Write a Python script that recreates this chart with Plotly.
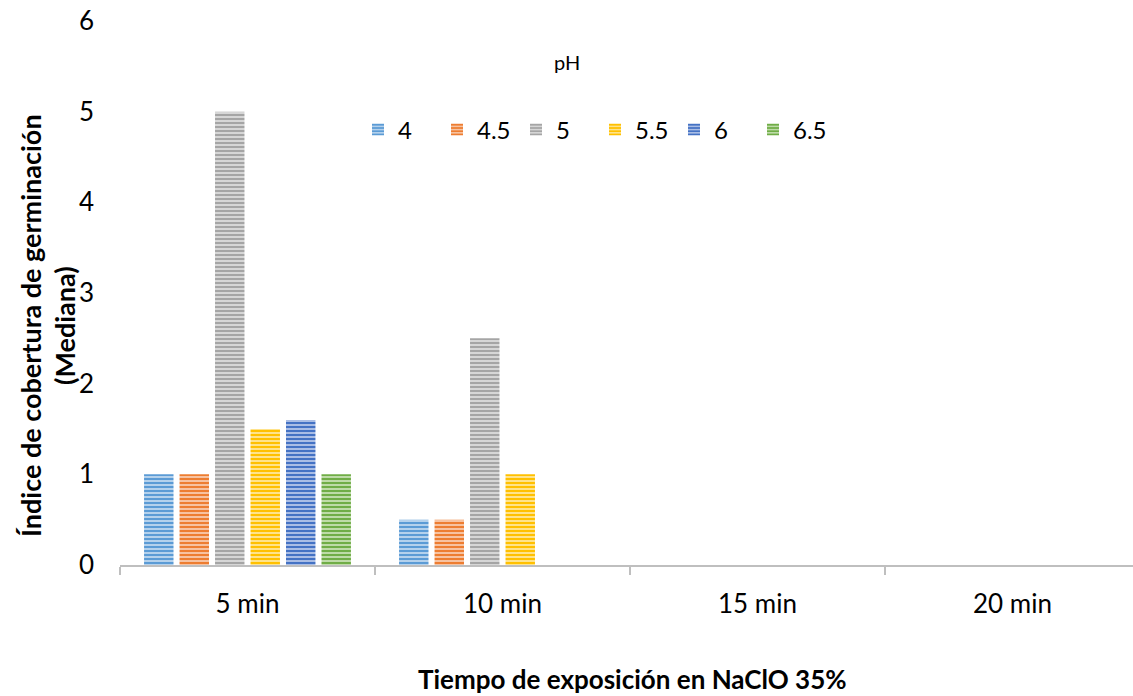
import plotly.graph_objects as go

# Exposure times (x categories) and pH levels (series)
categories = ["5 min", "10 min", "15 min", "20 min"]
ph_labels = ["4", "4.5", "5", "5.5", "6", "6.5"]

# Median germination coverage index per pH, one value per exposure time
values_ph4 = [1, 0.5, 0, 0]
values_ph45 = [1, 0.5, 0, 0]
values_ph5 = [5, 2.5, 0, 0]
values_ph55 = [1.5, 1, 0, 0]
values_ph6 = [1.6, 0, 0, 0]
values_ph65 = [1, 0, 0, 0]

series = [values_ph4, values_ph45, values_ph5, values_ph55, values_ph6, values_ph65]
colors = ["#5B9BD5", "#ED7D31", "#A5A5A5", "#FFC000", "#4472C4", "#70AD47"]
light = ["#B4D1EC", "#F7C2A0", "#D6D6D6", "#FFE38A", "#A9BDE5", "#BEDBA8"]

FONT = "Lato, 'Open Sans', sans-serif"

fig = go.Figure()
for name, vals, c, lc in zip(ph_labels, series, colors, light):
    fig.add_trace(go.Bar(
        x=categories,
        y=vals,
        name=name,
        marker=dict(
            color=lc,
            line=dict(width=0),
            pattern=dict(shape="-", fgcolor=c, bgcolor=lc, size=4,
                         solidity=0.5, fillmode="replace"),
        ),
    ))

W, H = 1133, 696
L, R, T, B = 120, 0, 21, 131
plot_w = W - L - R
plot_h = H - T - B
cat_px = 255.0


def px_x(px):
    return (px - L) / plot_w


def px_y(py):
    return (H - B - py) / plot_h


title_font = dict(family=FONT, size=27, color="#000000")

fig.update_layout(
    width=W, height=H,
    margin=dict(l=L, r=R, t=T, b=B),
    paper_bgcolor="white",
    plot_bgcolor="white",
    barmode="group",
    bargap=0.165,
    bargroupgap=0.17,
    font=dict(family=FONT, size=26, color="#000000"),
    showlegend=True,
    legend=dict(
        orientation="h",
        x=px_x(358), xanchor="left",
        y=px_y(130), yanchor="middle",
        font=dict(family=FONT, size=24, color="#000000"),
        itemwidth=30,
        entrywidth=34,
        entrywidthmode="pixels",
        bgcolor="rgba(0,0,0,0)",
        traceorder="normal",
    ),
    xaxis=dict(
        type="category",
        range=[-0.5, -0.5 + plot_w / cat_px],
        showgrid=False,
        showline=True,
        linecolor="#BFBFBF",
        linewidth=2,
        ticks="outside",
        tickson="boundaries",
        ticklen=8,
        tickwidth=2,
        tickcolor="#BFBFBF",
        tickfont=dict(family=FONT, size=26, color="#000000"),
        ticklabelstandoff=15,
        zeroline=False,
        fixedrange=True,
    ),
    yaxis=dict(
        range=[0, 6],
        tickvals=[0, 1, 2, 3, 4, 5, 6],
        showgrid=False,
        showline=False,
        zeroline=False,
        ticks="",
        tickfont=dict(family=FONT, size=26, color="#000000"),
        ticklabelstandoff=25,
        fixedrange=True,
    ),
    annotations=[
        dict(text="pH", xref="paper", yref="paper",
             x=px_x(567), y=px_y(62),
             showarrow=False, font=dict(family=FONT, size=20, color="#000000"),
             xanchor="center", yanchor="middle"),
        dict(text="<b>Índice de cobertura de germinación</b>",
             xref="paper", yref="paper",
             x=px_x(30), y=px_y(326),
             textangle=-90, showarrow=False, font=title_font,
             xanchor="center", yanchor="middle"),
        dict(text="<b>(Mediana)</b>",
             xref="paper", yref="paper",
             x=px_x(64), y=px_y(326),
             textangle=-90, showarrow=False, font=title_font,
             xanchor="center", yanchor="middle"),
        dict(text="<b>Tiempo de exposición en NaClO 35%</b>",
             xref="paper", yref="paper",
             x=px_x(632), y=px_y(679),
             showarrow=False,
             font=dict(family=FONT, size=26, color="#000000"),
             xanchor="center", yanchor="middle"),
    ],
)

fig.write_html("out.html")
